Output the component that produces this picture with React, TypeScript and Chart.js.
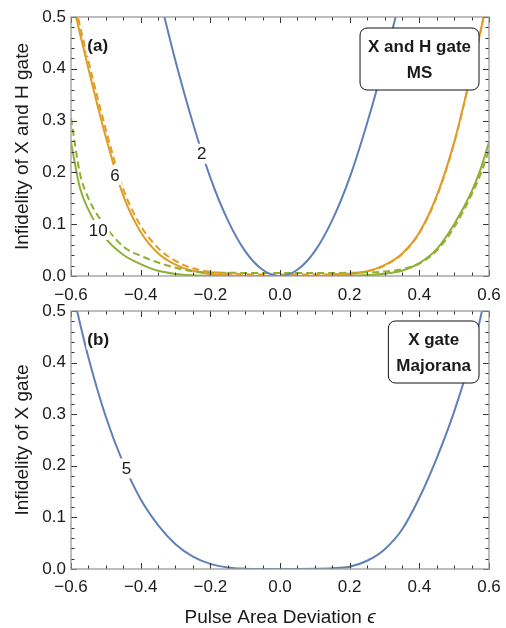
import React, { useEffect, useRef } from 'react';
import { Chart, registerables } from 'chart.js';
Chart.register(...registerables);

// ---------- data ----------
const xTicks = [-0.6, -0.4, -0.2, 0, 0.2, 0.4, 0.6];
const yTicks = [0, 0.1, 0.2, 0.3, 0.4, 0.5];

// panel (a): MS, X and H gate
const msBlueX = [-0.4, -0.35, -0.3, -0.25, -0.2, -0.15, -0.1, -0.05, 0, 0.05, 0.1, 0.15, 0.2, 0.25, 0.3, 0.35, 0.4];
const msBlueY = [0.69, 0.55, 0.415, 0.295, 0.19, 0.108, 0.048, 0.012, 0, 0.012, 0.048, 0.108, 0.19, 0.295, 0.415, 0.55, 0.69];

const msGridX = [-0.6, -0.575, -0.55, -0.5, -0.45, -0.4, -0.35, -0.3, -0.25, -0.2, -0.15, -0.1, -0.05, 0, 0.05, 0.1, 0.15, 0.2, 0.25, 0.3, 0.35, 0.4, 0.45, 0.5, 0.55, 0.575, 0.6];
const msOrangeSolid = [0.545, 0.47, 0.4, 0.268, 0.155, 0.085, 0.044, 0.022, 0.01, 0.004, 0.0015, 0.0004, 0.0001, 0, 0.0001, 0.0004, 0.0015, 0.004, 0.009, 0.021, 0.043, 0.084, 0.155, 0.258, 0.395, 0.47, 0.55];
const msOrangeDashed = [0.56, 0.485, 0.415, 0.283, 0.168, 0.097, 0.054, 0.029, 0.015, 0.008, 0.005, 0.0035, 0.003, 0.003, 0.003, 0.003, 0.0035, 0.005, 0.009, 0.02, 0.042, 0.083, 0.153, 0.257, 0.395, 0.47, 0.55];
const msGreenSolid = [0.258, 0.172, 0.128, 0.072, 0.041, 0.023, 0.01, 0.004, 0.0015, 0.0005, 0.0002, 0.0001, 0, 0, 0, 0.0001, 0.0003, 0.0008, 0.002, 0.0045, 0.01, 0.025, 0.052, 0.1, 0.163, 0.205, 0.258];
const msGreenDashed = [0.305, 0.2, 0.15, 0.095, 0.057, 0.039, 0.026, 0.016, 0.009, 0.0068, 0.0062, 0.006, 0.006, 0.006, 0.006, 0.006, 0.006, 0.0062, 0.007, 0.0085, 0.013, 0.024, 0.049, 0.094, 0.157, 0.195, 0.243];

// panel (b): Majorana, X gate
const mjX = [-0.6, -0.55, -0.5, -0.45, -0.4, -0.35, -0.3, -0.25, -0.2, -0.15, -0.1, -0.05, 0, 0.05, 0.1, 0.15, 0.2, 0.25, 0.3, 0.35, 0.4, 0.45, 0.5, 0.55, 0.6];
const mjBlueY = [0.55, 0.41, 0.295, 0.205, 0.135, 0.085, 0.048, 0.024, 0.01, 0.003, 0.0006, 0.0001, 0, 0.0001, 0.0005, 0.0015, 0.0045, 0.016, 0.038, 0.076, 0.138, 0.215, 0.305, 0.415, 0.56];

// curve labels: [text, x, y]
const msLabels: [string, number, number][] = [
  ['2', -0.225, 0.236],
  ['6', -0.474, 0.195],
  ['10', -0.522, 0.089],
];
const mjLabels: [string, number, number][] = [['5', -0.441, 0.195]];

const BLUE = '#5E81B5';
const ORANGE = '#E19C24';
const GREEN = '#8FB032';
const FONT = "'Liberation Sans', Arial, sans-serif";
const TXT = '#1a1a1a';

const fmt = (v: number) => {
  if (Math.abs(v) < 1e-9) return '0.0';
  return (v < 0 ? '\u2212' : '') + Math.abs(v).toFixed(1);
};

const series = (xs: number[], ys: number[], color: string, dashed: boolean) => ({
  data: xs.map((x, i) => ({ x, y: ys[i] })),
  borderColor: color,
  borderWidth: 2,
  borderDash: dashed ? [7, 4] : [],
  pointRadius: 0,
  fill: false,
  cubicInterpolationMode: 'monotone' as const,
});

function roundRect(ctx: CanvasRenderingContext2D, x: number, y: number, w: number, h: number, r: number) {
  ctx.beginPath();
  ctx.moveTo(x + r, y);
  ctx.lineTo(x + w - r, y);
  ctx.arcTo(x + w, y, x + w, y + r, r);
  ctx.lineTo(x + w, y + h - r);
  ctx.arcTo(x + w, y + h, x + w - r, y + h, r);
  ctx.lineTo(x + r, y + h);
  ctx.arcTo(x, y + h, x, y + h - r, r);
  ctx.lineTo(x, y + r);
  ctx.arcTo(x, y, x + r, y, r);
  ctx.closePath();
}

function makeDecor(panel: string, labels: [string, number, number][], boxLines: string[], boxTop: number, xTitle: boolean) {
  return {
    id: 'decor' + panel,
    afterDraw(chart: any) {
      const ctx: CanvasRenderingContext2D = chart.ctx;
      const { left, right, top, bottom } = chart.chartArea;
      const xs = chart.scales.x;
      const ys = chart.scales.y;
      ctx.save();
      // curve labels
      ctx.font = `17px ${FONT}`;
      ctx.textAlign = 'center';
      ctx.textBaseline = 'middle';
      for (const [t, lx, ly] of labels) {
        const px = xs.getPixelForValue(lx);
        const py = ys.getPixelForValue(ly);
        const w = ctx.measureText(t).width + 4;
        ctx.fillStyle = '#fff';
        ctx.fillRect(px - w / 2, py - 10, w, 20);
        ctx.fillStyle = TXT;
        ctx.fillText(t, px, py + 1);
      }
      // panel letter
      ctx.font = `bold 17px ${FONT}`;
      ctx.textAlign = 'left';
      const pl = `(${panel})`;
      const plx = xs.getPixelForValue(-0.553);
      const ply = ys.getPixelForValue(0.445);
      const plw = ctx.measureText(pl).width;
      ctx.fillStyle = '#fff';
      ctx.fillRect(plx - 1, ply - 10, plw + 2, 20);
      ctx.fillStyle = TXT;
      ctx.fillText(pl, plx, ply + 1);
      // ticks
      ctx.strokeStyle = '#333';
      ctx.lineWidth = 1;
      ctx.beginPath();
      for (let i = -12; i <= 12; i++) {
        const px = Math.round(xs.getPixelForValue(i * 0.05)) + 0.5;
        const len = i % 4 === 0 ? 6 : 3.5;
        ctx.moveTo(px, bottom);
        ctx.lineTo(px, bottom - len);
        ctx.moveTo(px, top);
        ctx.lineTo(px, top + len);
      }
      for (let j = 0; j <= 25; j++) {
        const py = Math.round(ys.getPixelForValue(j * 0.02)) + 0.5;
        const len = j % 5 === 0 ? 6 : 3.5;
        ctx.moveTo(left, py);
        ctx.lineTo(left + len, py);
        ctx.moveTo(right, py);
        ctx.lineTo(right - len, py);
      }
      ctx.stroke();
      // frame
      ctx.strokeStyle = '#9a9a9a';
      ctx.lineWidth = 1.3;
      ctx.strokeRect(left, top, right - left, bottom - top);
      // legend box
      ctx.font = `bold 17px ${FONT}`;
      const bw = Math.max(...boxLines.map((l) => ctx.measureText(l).width)) + 16;
      const bx = right - 10 - bw;
      const by = top + boxTop;
      roundRect(ctx, bx, by, bw, 62, 7);
      ctx.fillStyle = '#fff';
      ctx.fill();
      ctx.strokeStyle = '#111';
      ctx.lineWidth = 1;
      ctx.stroke();
      ctx.fillStyle = TXT;
      ctx.textAlign = 'center';
      ctx.fillText(boxLines[0], bx + bw / 2, by + 19);
      ctx.fillText(boxLines[1], bx + bw / 2, by + 45.5);
      // x title
      if (xTitle) {
        const a = 'Pulse Area Deviation ';
        const b = '\u03F5';
        ctx.font = `19px ${FONT}`;
        const wa = ctx.measureText(a).width;
        ctx.font = `italic 19px ${FONT}`;
        const wb = ctx.measureText(b).width;
        const cx = (left + right) / 2;
        const x0 = cx - (wa + wb) / 2;
        const ty = bottom + 49;
        ctx.textAlign = 'left';
        ctx.font = `19px ${FONT}`;
        ctx.fillText(a, x0, ty);
        ctx.font = `italic 19px ${FONT}`;
        ctx.fillText(b, x0 + wa, ty);
      }
      ctx.restore();
    },
  };
}

function buildConfig(panel: 'a' | 'b'): any {
  const isA = panel === 'a';
  const datasets = isA
    ? [
        series(msBlueX, msBlueY, BLUE, false),
        series(msGridX, msOrangeDashed, ORANGE, true),
        series(msGridX, msGreenDashed, GREEN, true),
        series(msGridX, msOrangeSolid, ORANGE, false),
        series(msGridX, msGreenSolid, GREEN, false),
      ]
    : [series(mjX, mjBlueY, BLUE, false)];
  // canvas a: page y 0..302, area 17..276 ; canvas b: page y 292..628, area 311..569
  const canvasH = isA ? 302 : 336;
  const areaBottom = isA ? 276 : 277;
  return {
    type: 'line',
    data: { datasets },
    options: {
      animation: false,
      responsive: false,
      events: [],
      layout: { padding: { left: 0, right: 17, top: isA ? 17 : 19, bottom: 0 } },
      plugins: { legend: { display: false }, tooltip: { enabled: false } },
      scales: {
        x: {
          type: 'linear',
          min: -0.6,
          max: 0.6,
          grid: { display: false, drawTicks: false },
          border: { display: false },
          afterBuildTicks: (s: any) => {
            s.ticks = xTicks.map((v) => ({ value: v }));
          },
          afterFit: (s: any) => {
            s.height = canvasH - areaBottom;
            s.paddingLeft = 0;
            s.paddingRight = 0;
          },
          ticks: {
            autoSkip: false,
            maxRotation: 0,
            padding: isA ? 9 : 8,
            color: TXT,
            font: { family: FONT, size: 17 },
            callback: (v: number) => fmt(v),
          },
        },
        y: {
          type: 'linear',
          min: 0,
          max: 0.5,
          grid: { display: false, drawTicks: false },
          border: { display: false },
          afterBuildTicks: (s: any) => {
            s.ticks = yTicks.map((v) => ({ value: v }));
          },
          afterFit: (s: any) => {
            s.width = 71;
            s.paddingTop = 0;
            s.paddingBottom = 0;
          },
          ticks: {
            padding: 5,
            color: TXT,
            font: { family: FONT, size: 17, lineHeight: 1 },
            callback: (v: number) => fmt(v),
          },
          title: {
            display: true,
            text: isA ? 'Infidelity of X and H gate' : 'Infidelity of X gate',
            color: TXT,
            font: { family: FONT, size: 19 },
            padding: { top: 11.6, bottom: 0 },
          },
        },
      },
    },
    plugins: [
      makeDecor(
        panel,
        isA ? msLabels : mjLabels,
        isA ? ['X and H gate', 'MS'] : ['X gate', 'Majorana'],
        isA ? 11 : 10,
        !isA
      ),
    ],
  };
}

function Panel({ panel, top, height }: { panel: 'a' | 'b'; top: number; height: number }) {
  const ref = useRef<HTMLCanvasElement>(null);
  useEffect(() => {
    const chart = new Chart(ref.current as HTMLCanvasElement, buildConfig(panel));
    return () => chart.destroy();
  }, [panel]);
  return (
    <canvas
      ref={ref}
      width={506}
      height={height}
      style={{ position: 'absolute', left: 0, top, width: 506, height, display: 'block' }}
    />
  );
}

export default function App() {
  return (
    <div style={{ position: 'absolute', left: 0, top: 0, width: 506, height: 628, background: '#fff' }}>
      <Panel panel="a" top={0} height={302} />
      <Panel panel="b" top={292} height={336} />
    </div>
  );
}
